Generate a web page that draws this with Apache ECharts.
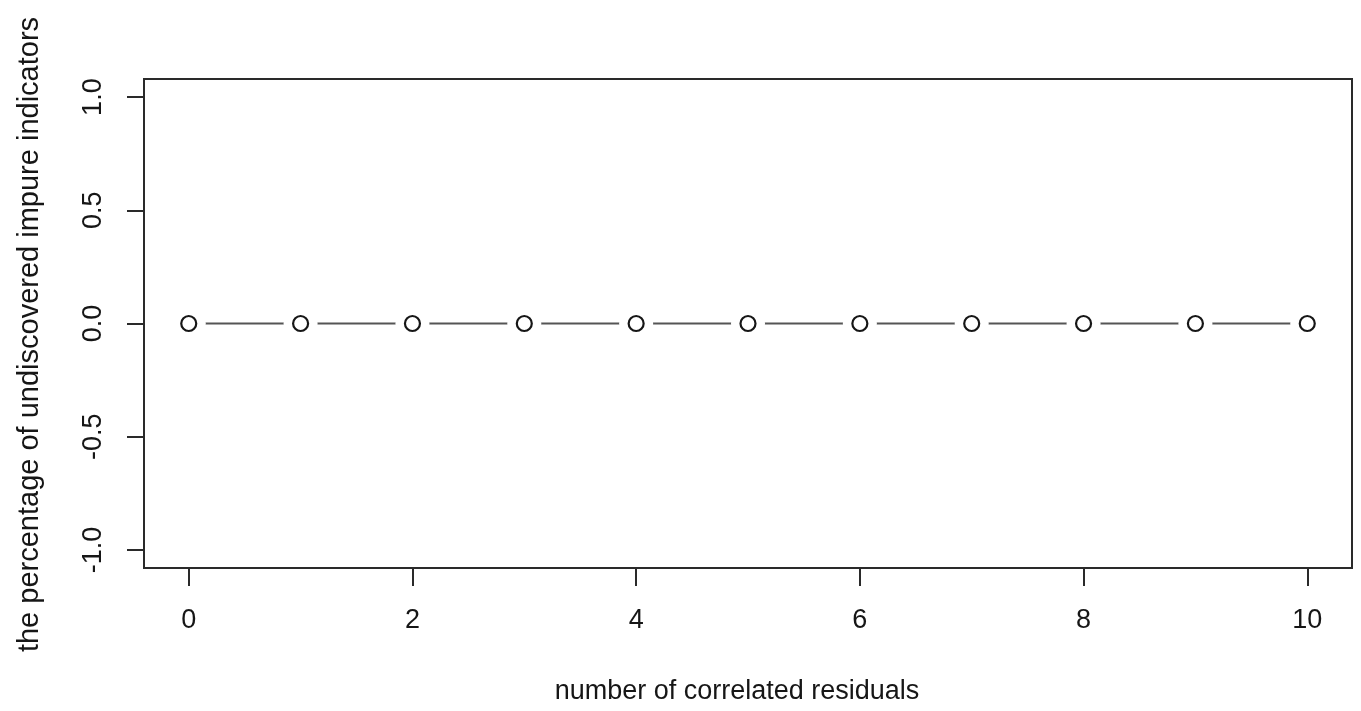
<!DOCTYPE html>
<html>
<head>
<meta charset="utf-8">
<script src="https://cdn.jsdelivr.net/npm/echarts@6/dist/echarts.min.js"></script>
<style>
  html, body { margin: 0; padding: 0; background: #fff; }
  #chart { width: 1361px; height: 711px; }
</style>
</head>
<body>
<div id="chart"></div>
<script>
// Share of undiscovered impure indicators by number of correlated residuals
const residuals = [0, 1, 2, 3, 4, 5, 6, 7, 8, 9, 10];
const undiscoveredShare = [0, 0, 0, 0, 0, 0, 0, 0, 0, 0, 0];
const xTickValues = [0, 2, 4, 6, 8, 10];
const yTickValues = [-1.0, -0.5, 0.0, 0.5, 1.0];

const points = residuals.map((r, i) => [r, undiscoveredShare[i]]);

const FONT = "'Liberation Sans', Arial, sans-serif";
const INK = '#161616';
const FRAME = '#2a2a2a';

const chart = echarts.init(document.getElementById('chart'));
chart.setOption({
  animation: false,
  backgroundColor: '#ffffff',
  grid: {
    left: 144, right: 9, top: 79, bottom: 143,
    show: true, borderColor: FRAME, borderWidth: 2, backgroundColor: 'transparent'
  },
  xAxis: {
    type: 'value',
    min: -0.4, max: 10.4,
    name: 'number of correlated residuals',
    nameLocation: 'middle',
    nameGap: 110,
    nameTextStyle: { fontFamily: FONT, fontSize: 27, color: INK, padding: [0, 22, 0, 0] },
    axisLine: { show: false, onZero: false },
    splitLine: { show: false },
    axisTick: {
      show: true, inside: false, length: 18,
      customValues: xTickValues,
      lineStyle: { color: FRAME, width: 2 }
    },
    axisLabel: {
      customValues: xTickValues,
      margin: 39,
      fontFamily: FONT, fontSize: 27, color: INK,
      formatter: v => String(v)
    }
  },
  yAxis: {
    type: 'value',
    min: -1.08, max: 1.08,
    name: 'the percentage of undiscovered impure indicators',
    nameLocation: 'middle',
    nameGap: 100,
    nameTextStyle: { fontFamily: FONT, fontSize: 29, color: INK, padding: [0, 22, 0, 0] },
    axisLine: { show: false, onZero: false },
    splitLine: { show: false },
    axisTick: {
      show: true, inside: false, length: 17,
      customValues: yTickValues,
      lineStyle: { color: FRAME, width: 2 }
    },
    axisLabel: {
      customValues: yTickValues,
      rotate: 90,
      margin: 37,
      fontFamily: FONT, fontSize: 27, color: INK,
      formatter: v => v.toFixed(1)
    }
  },
  series: [
    {
      // connecting segments
      type: 'line',
      data: points,
      showSymbol: false,
      lineStyle: { color: '#555555', width: 2.2 },
      z: 1
    },
    {
      // white halo that opens a gap in the line around each point
      type: 'scatter',
      data: points,
      symbol: 'circle',
      symbolSize: 34,
      itemStyle: { color: '#ffffff', opacity: 1 },
      z: 2
    },
    {
      // open circle markers
      type: 'scatter',
      data: points,
      symbol: 'circle',
      symbolSize: 15,
      itemStyle: { color: '#ffffff', borderColor: '#161616', borderWidth: 2.2, opacity: 1 },
      z: 3
    }
  ]
});
</script>
</body>
</html>
